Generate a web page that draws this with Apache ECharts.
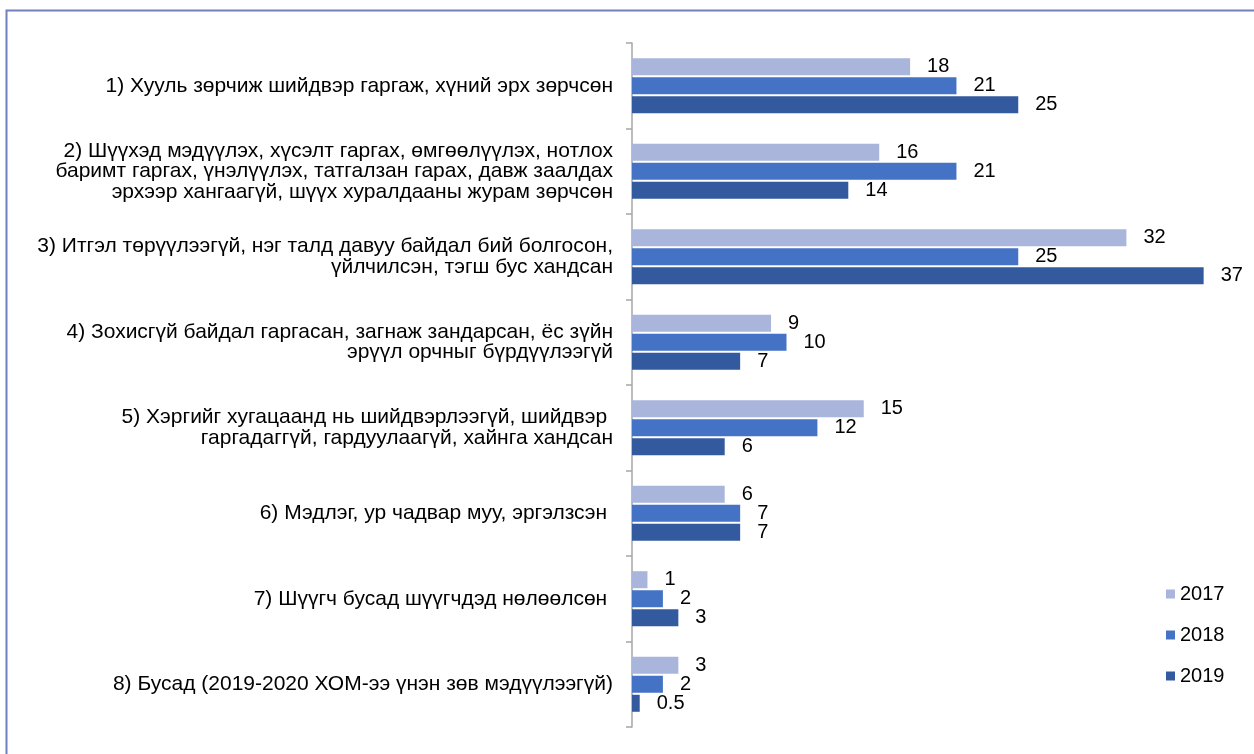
<!DOCTYPE html>
<html><head><meta charset="utf-8">
<script src="https://cdn.jsdelivr.net/npm/echarts@6/dist/echarts.min.js"></script>
<style>html,body{margin:0;padding:0;background:#fff}#c{width:1254px;height:754px}</style>
</head><body><div id="c"></div>
<script>
const categories = [
  "1) Хууль зөрчиж шийдвэр гаргаж, хүний эрх зөрчсөн",
  "2) Шүүхэд мэдүүлэх, хүсэлт гаргах, өмгөөлүүлэх, нотлох\nбаримт гаргах, үнэлүүлэх, татгалзан гарах, давж заалдах\nэрхээр хангаагүй, шүүх хуралдааны журам зөрчсөн",
  "3) Итгэл төрүүлээгүй, нэг талд давуу байдал бий болгосон,\nүйлчилсэн, тэгш бус хандсан",
  "4) Зохисгүй байдал гаргасан, загнаж зандарсан, ёс зүйн\nэрүүл орчныг бүрдүүлээгүй",
  "5) Хэргийг хугацаанд нь шийдвэрлээгүй, шийдвэр \nгаргадаггүй, гардуулаагүй, хайнга хандсан",
  "6) Мэдлэг, ур чадвар муу, эргэлзсэн ",
  "7) Шүүгч бусад шүүгчдэд нөлөөлсөн ",
  "8) Бусад (2019-2020 ХОМ-ээ үнэн зөв мэдүүлээгүй)"
];
const seriesNames = ["2017", "2018", "2019"];
const v2017 = [18, 16, 32, 9, 15, 6, 1, 3];
const v2018 = [21, 21, 25, 10, 12, 7, 2, 2];
const v2019 = [25, 14, 37, 7, 6, 7, 3, 0.5];
const colors = ["#A9B5DB", "#4472C4", "#335A9E"];

const chart = echarts.init(document.getElementById('c'), null, {renderer: 'canvas'});
const font = "'Liberation Sans', Arial, sans-serif";
const data = [v2017, v2018, v2019];
chart.setOption({
  animation: false,
  textStyle: {fontFamily: font},
  graphic: [{
    type: 'rect', shape: {x: 6.5, y: 10.5, width: 1300, height: 800},
    style: {fill: 'none', stroke: '#7080BE', lineWidth: 2}, silent: true
  }],
  grid: {left: 632, right: 4, top: 43, bottom: 27, containLabel: false},
  xAxis: {type: 'value', min: 0, max: 40, show: false},
  yAxis: {
    type: 'category', data: categories, inverse: true,
    axisLine: {show: true, lineStyle: {color: '#A6A6A6', width: 1.5}},
    axisTick: {show: true, length: 6, lineStyle: {color: '#A6A6A6', width: 1.5}},
    axisLabel: {color: '#000', fontSize: 21, fontFamily: font, margin: 19, lineHeight: 20.5, align: 'right'},
    splitLine: {show: false}
  },
  legend: {
    orient: 'vertical', left: 1161, top: 579, itemGap: 21,
    itemWidth: 9, itemHeight: 9, icon: 'rect',
    textStyle: {fontSize: 20, color: '#000', fontFamily: font},
    data: seriesNames
  },
  series: seriesNames.map((n, i) => ({
    name: n, type: 'bar', data: data[i],
    barWidth: 17, barGap: '12%', barCategoryGap: '36%',
    itemStyle: {color: colors[i]},
    label: {show: true, position: 'right', distance: 17, color: '#000', fontSize: 20, fontFamily: font}
  }))
});
</script></body></html>
